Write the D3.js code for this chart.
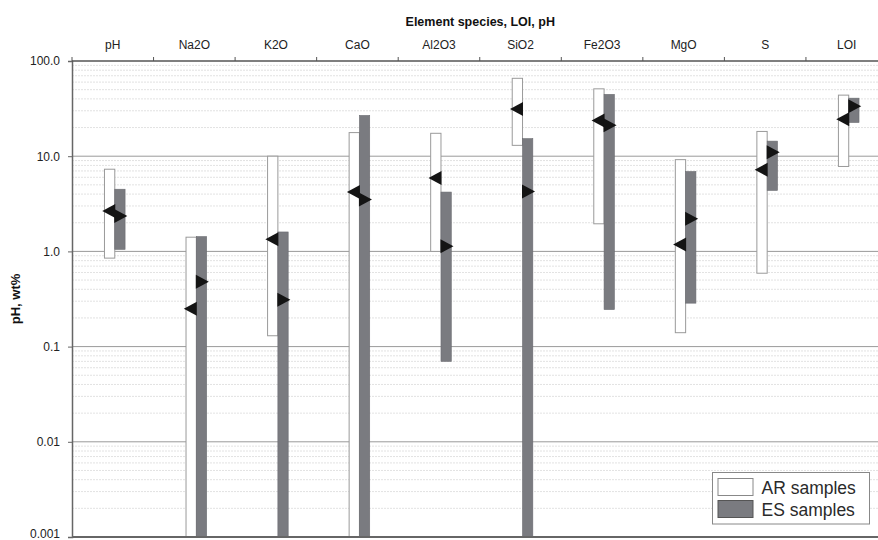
<!DOCTYPE html>
<html><head><meta charset="utf-8">
<script src="https://cdn.jsdelivr.net/npm/d3@7"></script>
<style>body{margin:0;background:#fff}svg{display:block}text{font-family:"Liberation Sans",Arial,sans-serif}</style>
</head><body>
<svg id="c" width="878" height="540"></svg>
<script>
const categories = ["pH","Na2O","K2O","CaO","Al2O3","SiO2","Fe2O3","MgO","S","LOI"];
const arMin    = [0.85, 0.001, 0.13, 0.001, 1.0, 13.0, 1.95, 0.14, 0.59, 7.8];
const arMax    = [7.3, 1.41, 10.0, 17.7, 17.4, 65.8, 51.0, 9.2, 18.2, 43.8];
const arMedian = [2.65, 0.25, 1.34, 4.2, 5.9, 31.3, 23.7, 1.18, 7.2, 24.4];
const esMin    = [1.05, 0.001, 0.001, 0.001, 0.07, 0.001, 0.245, 0.286, 4.37, 22.6];
const esMax    = [4.5, 1.43, 1.6, 26.8, 4.2, 15.3, 44.6, 6.9, 14.4, 40.7];
const esMedian = [2.35, 0.48, 0.31, 3.5, 1.13, 4.27, 21.1, 2.2, 11.0, 33.4];
const yTicks = [0.001, 0.01, 0.1, 1, 10, 100];
const yTickLabels = ["0.001","0.01","0.1","1.0","10.0","100.0"];
const seriesNames = ["AR samples","ES samples"];

const svg = d3.select("#c");
const L = 72, R = 887.5, T = 61, B = 537;
const x = d3.scaleBand().domain(categories).range([L, R]);
const y = d3.scaleLog().domain([0.001, 100]).range([B, T]);
const bw = 10.3;
const gray = "#7a7b80";

// minor gridlines
const minors = [];
for (let e = -3; e < 2; e++) for (let m = 2; m <= 9; m++) minors.push(m * Math.pow(10, e));
svg.append("g").selectAll("line").data(minors).join("line")
  .attr("x1", L).attr("x2", R).attr("y1", d => y(d)).attr("y2", d => y(d))
  .attr("stroke", "#dadada").attr("stroke-width", 0.8).attr("stroke-dasharray", "2,1");
// major gridlines
svg.append("g").selectAll("line").data(yTicks.slice(1, 5)).join("line")
  .attr("x1", L).attr("x2", R).attr("y1", d => y(d)).attr("y2", d => y(d))
  .attr("stroke", "#9a9a9a").attr("stroke-width", 1);

const idx = d3.range(categories.length);
const cx = i => x(categories[i]) + x.bandwidth() / 2;

// AR bars
svg.append("g").selectAll("rect").data(idx).join("rect")
  .attr("x", i => cx(i) - 8.3).attr("width", bw)
  .attr("y", i => y(arMax[i])).attr("height", i => y(arMin[i]) - y(arMax[i]))
  .attr("fill", "#fff").attr("stroke", "#9a9a9a").attr("stroke-width", 1);
// ES bars
svg.append("g").selectAll("rect").data(idx).join("rect")
  .attr("x", i => cx(i) + 2).attr("width", bw)
  .attr("y", i => y(esMax[i])).attr("height", i => y(esMin[i]) - y(esMax[i]))
  .attr("fill", gray).attr("stroke", "#6a6b70").attr("stroke-width", 0.6);

// median markers
const tw = 13, th = 14;
svg.append("g").selectAll("path").data(idx).join("path")
  .attr("d", i => { const bx = cx(i) + 2.5, by = y(arMedian[i]);
    return `M${bx},${by - th/2}L${bx - tw},${by}L${bx},${by + th/2}Z`; })
  .attr("fill", "#141414");
svg.append("g").selectAll("path").data(idx).join("path")
  .attr("d", i => { const bx = cx(i) + 1.5, by = y(esMedian[i]);
    return `M${bx},${by - th/2}L${bx + tw},${by}L${bx},${by + th/2}Z`; })
  .attr("fill", "#141414");

// left axis
const yAxis = svg.append("g").attr("transform", `translate(${L},0)`)
  .call(d3.axisLeft(y).tickValues(yTicks).tickFormat((d, i) => yTickLabels[i]).tickSize(4).tickPadding(8));
yAxis.select(".domain").attr("stroke", "#666").attr("stroke-width", 1.5);
yAxis.selectAll(".tick line").attr("stroke", "#666");
yAxis.selectAll("text").attr("font-size", 12).attr("fill", "#222")
  .attr("font-family", "'Liberation Sans',Arial,sans-serif");
yAxis.selectAll(".tick").filter(d => d === 0.001).select("text").attr("dy", "0.05em");

// top axis
const xAxis = svg.append("g").attr("transform", `translate(0,${T})`)
  .call(d3.axisTop(x).tickSize(0).tickPadding(12));
xAxis.select(".domain").remove();
xAxis.selectAll("text").attr("font-size", 12).attr("fill", "#222")
  .attr("font-family", "'Liberation Sans',Arial,sans-serif");
svg.append("line").attr("x1", L).attr("x2", R).attr("y1", T).attr("y2", T)
  .attr("stroke", "#555").attr("stroke-width", 1.5);
svg.append("g").selectAll("line").data(categories).join("line")
  .attr("x1", d => x(d)).attr("x2", d => x(d)).attr("y1", T - 4).attr("y2", T)
  .attr("stroke", "#555");

// bottom axis
svg.append("line").attr("x1", L).attr("x2", R).attr("y1", B).attr("y2", B)
  .attr("stroke", "#666").attr("stroke-width", 2);

// titles
svg.append("text").attr("x", (L + R) / 2 + 0.5).attr("y", 25.5).attr("text-anchor", "middle")
  .attr("font-size", 12.5).attr("font-weight", "bold").attr("fill", "#111")
  .text("Element species, LOI, pH");
svg.append("text").attr("transform", `translate(20,${(T + B) / 2}) rotate(-90)`)
  .attr("text-anchor", "middle").attr("font-size", 13).attr("font-weight", "bold").attr("fill", "#111")
  .text("pH, wt%");

// legend
const lg = svg.append("g");
lg.append("rect").attr("x", 712.5).attr("y", 472.5).attr("width", 157).attr("height", 51.5)
  .attr("fill", "#fff").attr("stroke", "#888").attr("stroke-width", 1);
const fills = ["#fff", gray];
seriesNames.forEach((s, i) => {
  lg.append("rect").attr("x", 718).attr("y", 478.5 + i * 22).attr("width", 35).attr("height", 17)
    .attr("fill", fills[i]).attr("stroke", i ? "#555" : "#888");
  lg.append("text").attr("x", 761.5).attr("y", 494 + i * 22).attr("font-size", 17.5).attr("fill", "#2a2a2a").text(s);
});
</script>
</body></html>
